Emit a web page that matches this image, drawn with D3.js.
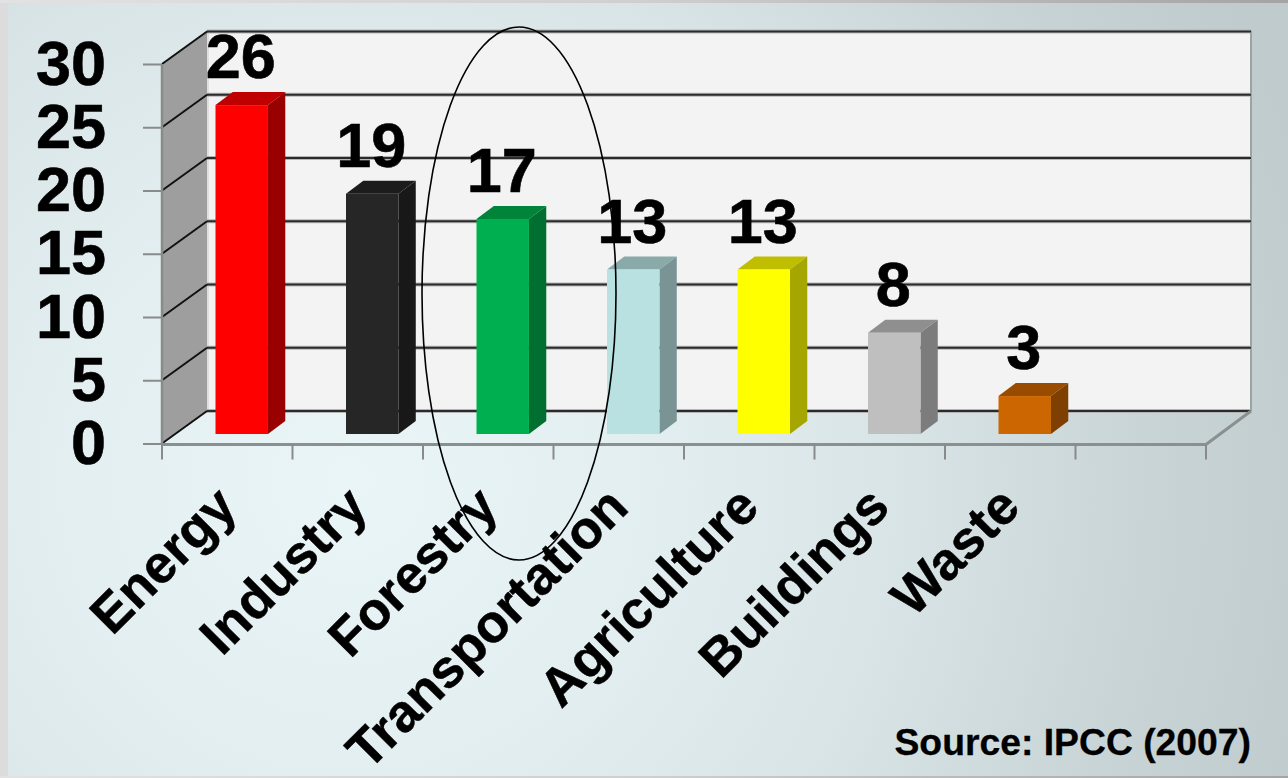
<!DOCTYPE html>
<html><head><meta charset="utf-8">
<script src="https://cdn.jsdelivr.net/npm/d3@7"></script>
<style>html,body{margin:0;padding:0;background:#ddd;overflow:hidden}svg{display:block}text{font-family:"Liberation Sans",Arial,sans-serif;font-weight:700;fill:#000}</style>
</head><body><div id="chart"></div>
<script>
const categories = ["Energy","Industry","Forestry","Transportation","Agriculture","Buildings","Waste"];
const values = [26,19,17,13,13,8,3];
const blankSlot = [""];
const yTicks = [0,5,10,15,20,25,30];
const frontColors = ["#ff0000","#262626","#00b050","#b9e1e2","#ffff00","#bfbfbf","#cc6600"];
const topColors = ["#bf0000","#1c1c1c","#008439","#8aa9a9","#bfbf00","#8f8f8f","#994c00"];
const sideColors = ["#990000","#181818","#006f30","#7a9495","#a6a600","#7c7c7c","#7f3f00"];
const sourceNote = "Source: IPCC (2007)";

const W=1288,H=778;
const svg=d3.select("#chart").append("svg").attr("width",W).attr("height",H);
const defs=svg.append("defs");
const bg=defs.append("radialGradient").attr("id","bg").attr("gradientUnits","userSpaceOnUse")
  .attr("cx",350).attr("cy",480).attr("r",1000);
[[0,"#eaf5f7"],[0.3,"#e3eef0"],[0.55,"#d8e4e5"],[0.8,"#c8d4d5"],[1,"#bfcbcc"]].forEach(s=>bg.append("stop").attr("offset",s[0]).attr("stop-color",s[1]));
const strip=defs.append("linearGradient").attr("id","strip");
[[0,"#e2e2e2"],[0.5,"#cfcfcf"],[1,"#a4a4a4"]].forEach(s=>strip.append("stop").attr("offset",s[0]).attr("stop-color",s[1]));
svg.append("rect").attr("width",W).attr("height",H).attr("fill","#dcdcdc");
svg.append("rect").attr("x",0).attr("width",W).attr("height",3).attr("fill","url(#strip)");
svg.append("rect").attr("x",0).attr("y",776).attr("width",W).attr("height",2).attr("fill","url(#strip)");
svg.append("rect").attr("x",8).attr("y",3).attr("width",W-8).attr("height",773).attr("fill","url(#bg)");

const domain=categories.concat(blankSlot);
const x=d3.scaleBand().domain(domain).range([162,1206]);
const y=d3.scaleLinear().domain([0,30]).range([443.5,64]);
const depthX=45, depthY=-32.5;          // wall depth
const barDepthX=17.3, barDepthY=-13;    // bar depth
const barInsetX=x.step()*0.41, barW=x.step()*0.402, barLift=9.5;
const x0=x.range()[0], x1=x.range()[1];

// back wall
svg.append("path").attr("fill","#f3f3f3").attr("stroke","#9aa4a4").attr("stroke-width",2)
  .attr("d",`M${x0+depthX},${y(0)+depthY}V${y(30)+depthY}H${x1+depthX}V${y(0)+depthY}`);
// left wall
svg.append("path").attr("fill","#9e9e9e")
  .attr("d",`M${x0},${y(0)}V${y(30)}L${x0+depthX},${y(30)+depthY}V${y(0)+depthY}Z`);
svg.append("line").attr("x1",x0+depthX+1).attr("x2",x0+depthX+1).attr("y1",y(30)+depthY).attr("y2",y(0)+depthY).attr("stroke","#dfdfdf").attr("stroke-width",2);

// grid lines
const grid=svg.append("g").attr("fill","none");
yTicks.forEach(t=>{
  grid.append("path").attr("stroke","#b5b5b5").attr("stroke-width",4).attr("d",`M${x0+depthX},${y(t)+depthY}H${x1+depthX}`);
  grid.append("path").attr("stroke","#2b2b2b").attr("stroke-width",2.2).attr("d",`M${x0+depthX},${y(t)+depthY}H${x1+depthX}`);
  grid.append("path").attr("stroke","#111").attr("stroke-width",2).attr("d",`M${x0},${y(t)}L${x0+depthX},${y(t)+depthY}`);
});

// floor edges & axes
svg.append("path").attr("fill","none").attr("stroke","#8a8f8f").attr("stroke-width",3)
  .attr("d",`M${x0},${y(0)+1}H${x1}L${x1+depthX},${y(0)+depthY}`);
svg.append("line").attr("x1",x0).attr("x2",x0).attr("y1",y(30)).attr("y2",y(0)).attr("stroke","#8a8a8a").attr("stroke-width",2.5);

const tickStops=domain.map(d=>x(d)).concat([x1]);
svg.append("g").selectAll("line").data(tickStops).join("line")
  .attr("x1",d=>d).attr("x2",d=>d).attr("y1",y(0)+1).attr("y2",y(0)+16)
  .attr("stroke","#8a8a8a").attr("stroke-width",2);

const yAxis=d3.axisLeft(y).tickValues(yTicks).tickSize(19).tickPadding(37);
const yG=svg.append("g").attr("transform",`translate(${x0},0)`).call(yAxis);
yG.select(".domain").remove();
yG.selectAll("line").attr("stroke","#8a8a8a").attr("stroke-width",2);
yG.selectAll("text").attr("font-size",63).attr("dy","0.32em").style("font-family",'"Liberation Sans",Arial,sans-serif').style("font-weight",700).attr("fill","#000").attr("stroke","#000").attr("stroke-width",0.6);

// bars
const bars=svg.append("g").selectAll("g").data(categories).join("g");
const bx=c=>x(c)+barInsetX;
const base=y(0)-barLift;
const h=i=>y(0)-y(values[i]);
bars.append("path").attr("fill",(c,i)=>topColors[i]).attr("d",(c,i)=>{
  const l=bx(c),t=base-h(i);
  return `M${l},${t}l${barDepthX},${barDepthY}h${barW}l${-barDepthX},${-barDepthY}Z`;});
bars.append("path").attr("fill",(c,i)=>sideColors[i]).attr("d",(c,i)=>{
  const r=bx(c)+barW,t=base-h(i);
  return `M${r},${t}l${barDepthX},${barDepthY}V${base+barDepthY}l${-barDepthX},${-barDepthY}Z`;});
bars.append("rect").attr("x",c=>bx(c)).attr("y",(c,i)=>base-h(i)).attr("width",barW).attr("height",(c,i)=>h(i))
  .attr("fill",(c,i)=>frontColors[i]);

// value labels
svg.append("g").selectAll("text").data(categories).join("text")
  .attr("x",c=>bx(c)+barW/2-1).attr("y",(c,i)=>base-h(i)-27)
  .attr("text-anchor","middle").attr("font-size",63).attr("stroke","#000").attr("stroke-width",0.6).text((c,i)=>values[i]);

// category labels
svg.append("g").selectAll("text").data(categories).join("text")
  .attr("text-anchor","end").attr("font-size",53).attr("stroke","#000").attr("stroke-width",0.5)
  .attr("transform",c=>`translate(${x(c)+x.step()/2+12},${y(0)+66}) rotate(-45)`)
  .text(c=>c);

// ellipse highlight
svg.append("ellipse").attr("cx",519).attr("cy",293.5).attr("rx",97).attr("ry",266.5)
  .attr("fill","none").attr("stroke","#000").attr("stroke-width",1.6);

svg.append("text").attr("x",1251).attr("y",755).attr("text-anchor","end").attr("font-size",37.3).attr("stroke","#000").attr("stroke-width",0.3).text(sourceNote);
</script></body></html>
